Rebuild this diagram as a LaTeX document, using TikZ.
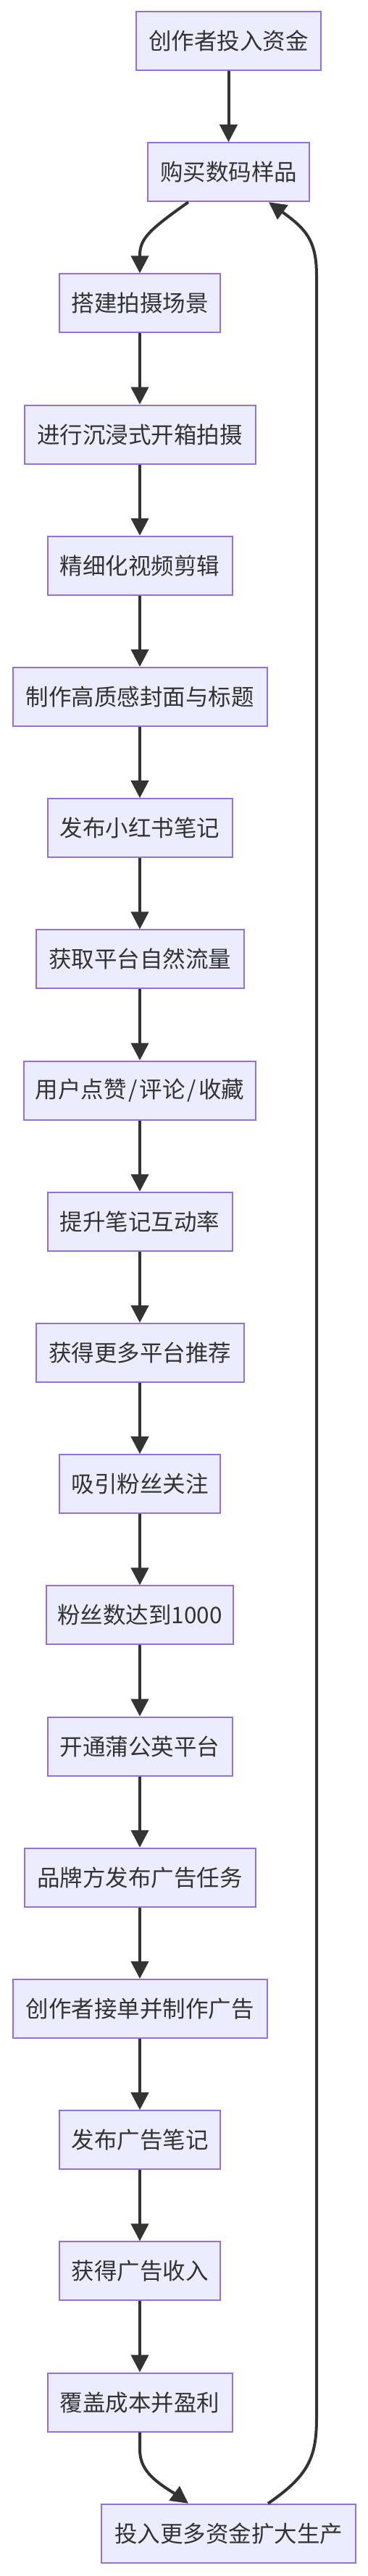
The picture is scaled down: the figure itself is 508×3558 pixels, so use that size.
\documentclass[tikz,border=0pt]{standalone}
\usepackage{fontspec}
\newfontfamily\cjk{Noto Sans CJK SC}
\usetikzlibrary{arrows.meta,calc}
\definecolor{boxfill}{HTML}{ECECFF}
\definecolor{boxline}{HTML}{9370DB}
\definecolor{txt}{HTML}{333333}
\definecolor{edgecol}{HTML}{333333}
\tikzset{
  box/.style={draw=boxline, fill=boxfill, line width=2pt, minimum height=81pt,
    inner sep=0pt, text=txt, font=\cjk\fontsize{31.5}{38}\selectfont},
  edge/.style={draw=edgecol, line width=4pt,
    -{Triangle[length=24pt,width=24pt]}}
}
\begin{document}
\begin{tikzpicture}[x=1pt,y=-1pt]
\useasboundingbox[fill=white] (0,0) rectangle (508,3558);
\node[box, minimum width=255pt] (n1) at (315.5,56.5) {创作者投入资金};
\node[box, minimum width=223pt] (n2) at (315.5,237.7) {购买数码样品};
\node[box, minimum width=222pt] (n3) at (193,418.9) {搭建拍摄场景};
\node[box, minimum width=319pt] (n4) at (193,600.1) {进行沉浸式开箱拍摄};
\node[box, minimum width=255pt] (n5) at (193,781.3) {精细化视频剪辑};
\node[box, minimum width=351pt] (n6) at (193,962.5) {制作高质感封面与标题};
\node[box, minimum width=255pt] (n7) at (193,1143.7) {发布小红书笔记};
\node[box, minimum width=287pt] (n8) at (193,1324.9) {获取平台自然流量};
\node[box, minimum width=320pt] (n9) at (193,1506.1) {用户点赞\kern3pt/\kern3pt评论\kern3pt/\kern3pt收藏};
\node[box, minimum width=255pt] (n10) at (193,1687.3) {提升笔记互动率};
\node[box, minimum width=287pt] (n11) at (193,1868.5) {获得更多平台推荐};
\node[box, minimum width=222pt] (n12) at (193,2049.7) {吸引粉丝关注};
\node[box, minimum width=258pt] (n13) at (193,2230.9) {粉丝数达到1000};
\node[box, minimum width=255pt] (n14) at (193,2412.1) {开通蒲公英平台};
\node[box, minimum width=319pt] (n15) at (193,2593.3) {品牌方发布广告任务};
\node[box, minimum width=351pt] (n16) at (193,2774.5) {创作者接单并制作广告};
\node[box, minimum width=222pt] (n17) at (193,2955.7) {发布广告笔记};
\node[box, minimum width=222pt] (n18) at (193,3136.9) {获得广告收入};
\node[box, minimum width=255pt] (n19) at (193,3318.1) {覆盖成本并盈利};
\node[box, minimum width=351pt] (n20) at (315.5,3499.3) {投入更多资金扩大生产};

\draw[edge] (n1) -- (n2);
\draw[edge] ($(n2.south)+(-55.5,0)$) .. controls (205,318) and (193,330) .. (193,353) -- (n3.north);
\foreach \a/\b in {3/4,4/5,5/6,6/7,7/8,8/9,9/10,10/11,11/12,12/13,13/14,14/15,15/16,16/17,17/18,18/19}
  \draw[edge] (n\a) -- (n\b);
\draw[edge] (n19.south) -- (193,3383) .. controls (193,3410) and (210,3425) .. (241,3444) -- ($(n20.north)+(-55.5,0)$);
\draw[edge] ($(n20.north)+(54.5,0)$) .. controls (425,3420) and (437,3395) .. (437,3340)
  -- (437,380) .. controls (437,330) and (420,315) .. (390,293) -- ($(n2.south)+(55.5,0)$);
\end{tikzpicture}
\end{document}
